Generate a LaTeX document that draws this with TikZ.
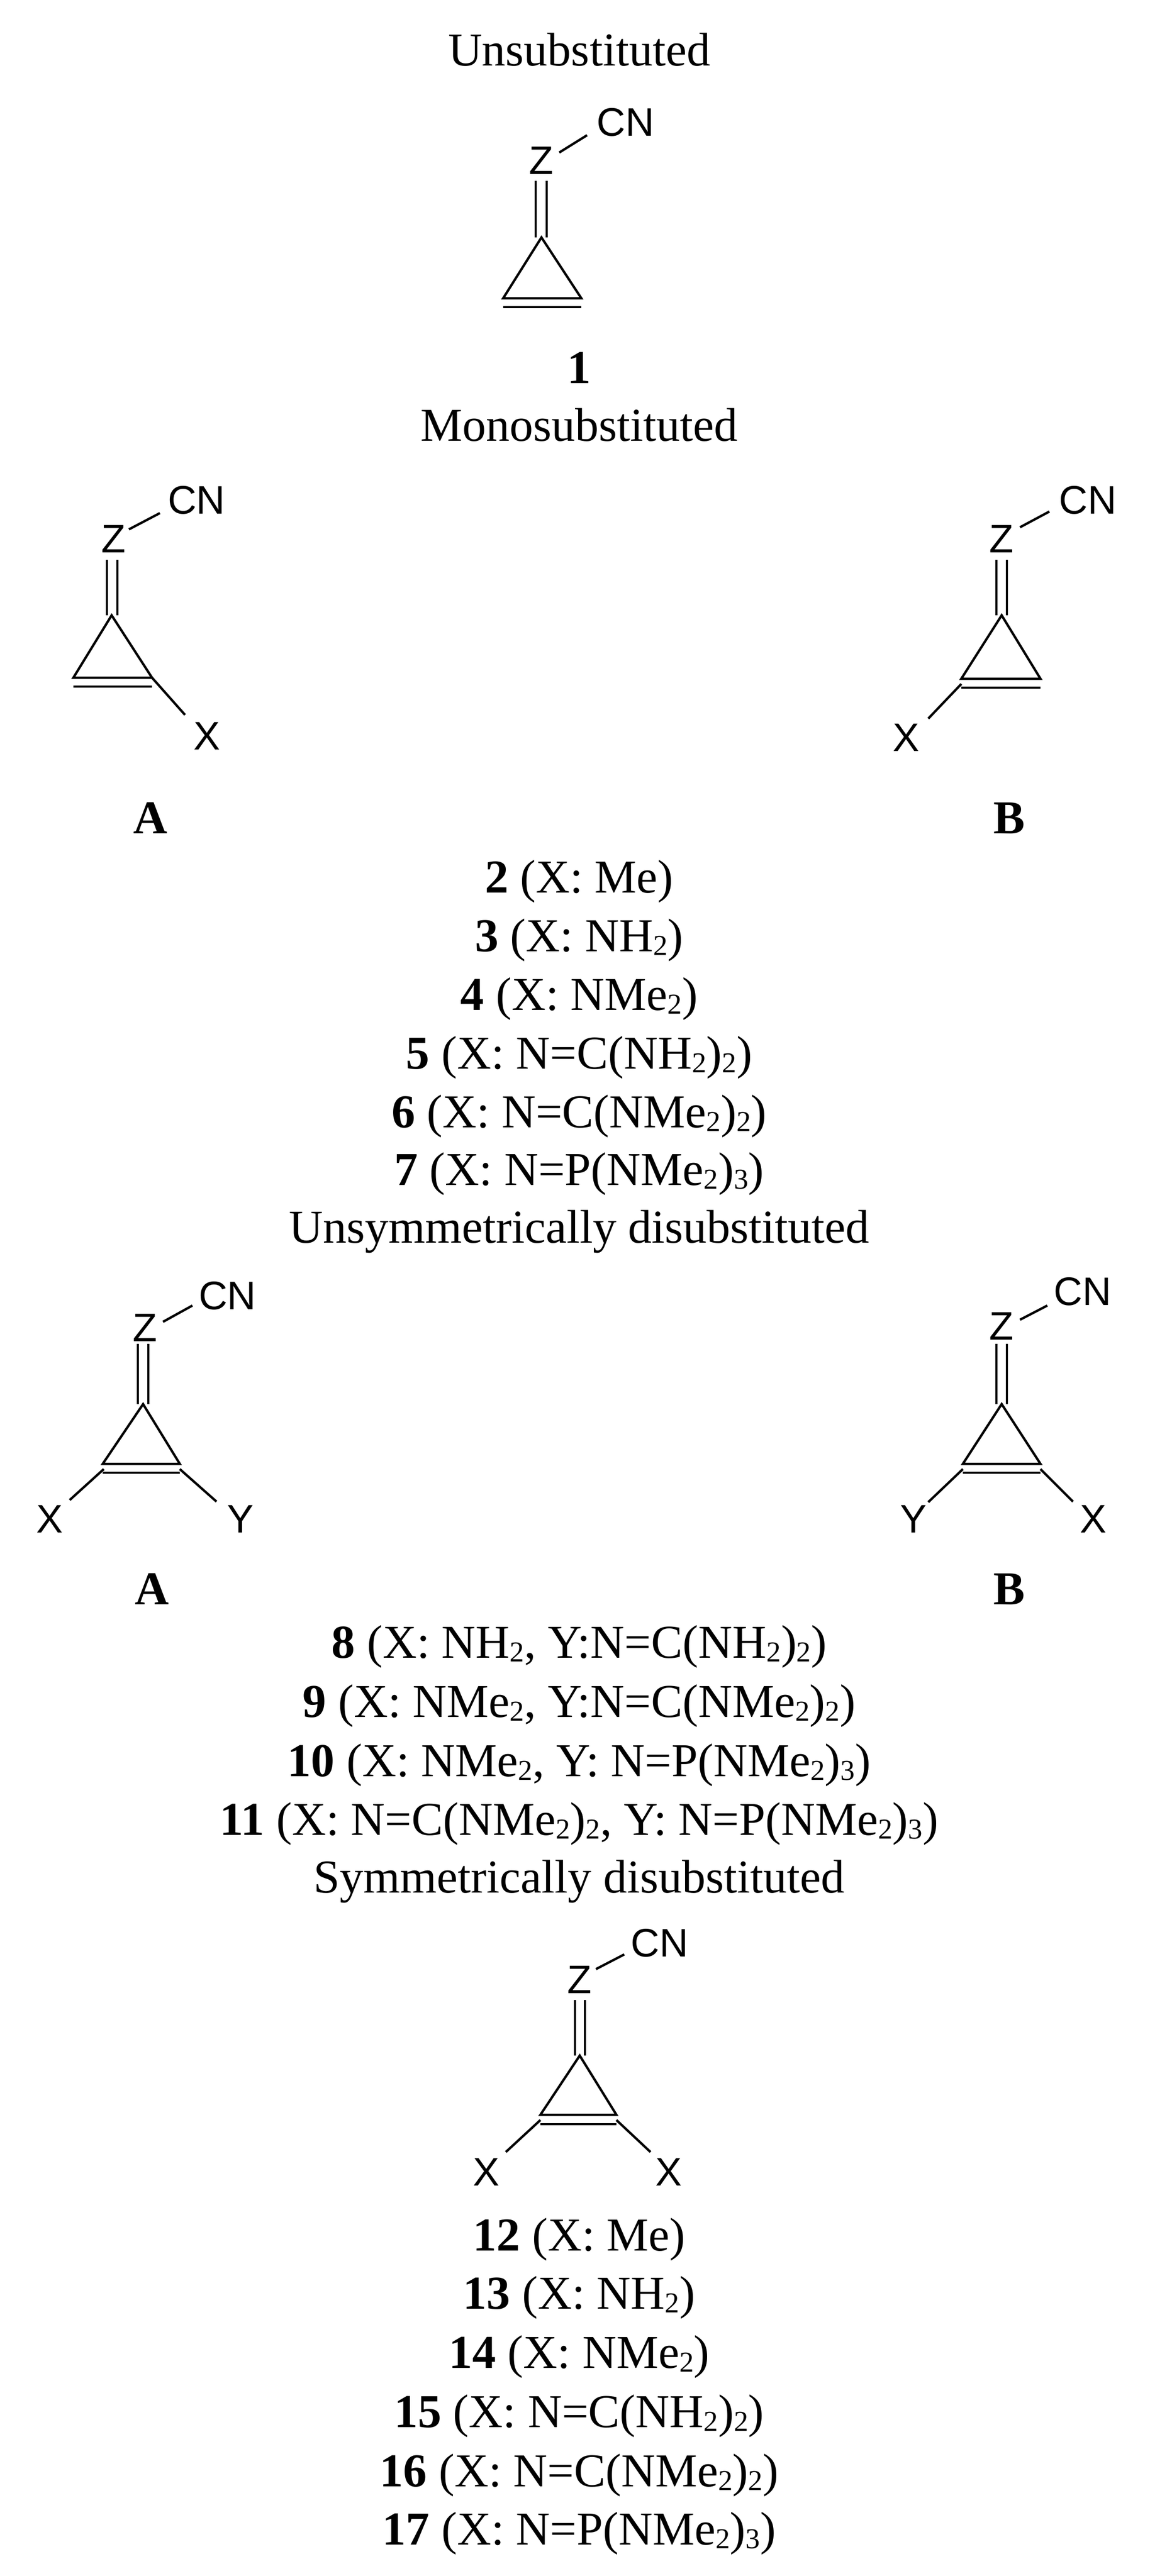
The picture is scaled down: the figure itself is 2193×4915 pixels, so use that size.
\documentclass[tikz,border=0pt]{standalone}
\usepackage{fontspec}
\setmainfont{Liberation Serif}
\newfontfamily\chemsf{Liberation Sans}
\newcommand{\sbs}[1]{\raisebox{-0.08em}{\fontsize{55}{55}\selectfont #1}}
\begin{document}
\begin{tikzpicture}[x=1pt,y=-1pt,
  bond/.style={line width=4.5pt},
  ttl/.style={font=\fontsize{90}{90}\selectfont, anchor=center, inner sep=0pt},
  atom/.style={font=\chemsf\fontsize{76}{76}\selectfont, anchor=center, inner sep=0pt},
  lbl/.style={font=\bfseries\fontsize{90}{90}\selectfont, anchor=center, inner sep=0pt}]
\useasboundingbox (0,0) rectangle (2193,4915);
% generic molecule macro: apex, base left, base right, offset
% ---------- Unsubstituted
\node[ttl] (t1) at (1105,95) {Unsubstituted};
\node[atom] (z1) at (1033,306) {Z};
\node[atom] (cn1) at (1193,233) {CN};
\coordinate (a1) at (1033,453); \coordinate (l1) at (960,569); \coordinate (r1) at (1109,569);
\draw[bond] (1067,291) -- (1120,258);
\draw[bond] (1022,345) -- (1022,453) (1043,345) -- (1043,453);
\draw[bond] (l1) -- (a1) -- (r1) -- cycle;
\draw[bond] (960,586) -- (1109,586);
\node[lbl] (n1) at (1105,702) {1};
% ---------- Monosubstituted
\node[ttl] (t2) at (1105,811) {Monosubstituted};
% A
\node[atom] (zA) at (217,1028) {Z};
\node[atom] (cnA) at (375,954) {CN};
\draw[bond] (246,1010) -- (305,979);
\draw[bond] (204,1068) -- (204,1174) (224,1068) -- (224,1174);
\coordinate (aA) at (213,1174); \coordinate (lA) at (140,1293); \coordinate (rA) at (290,1293);
\draw[bond] (lA) -- (aA) -- (rA) -- cycle;
\draw[bond] (140,1310) -- (290,1310);
\node[atom] (xA) at (395,1404) {X};
\draw[bond] (rA) -- (353,1364);
\node[lbl] (lblA) at (287,1561) {A};
% B
\node[atom] (zB) at (1911,1028) {Z};
\node[atom] (cnB) at (2075,954) {CN};
\draw[bond] (1946,1006) -- (2002,976);
\draw[bond] (1901,1068) -- (1901,1174) (1921,1068) -- (1921,1174);
\coordinate (aB) at (1911,1174); \coordinate (lB) at (1834,1295); \coordinate (rB) at (1985,1295);
\draw[bond] (lB) -- (aB) -- (rB) -- cycle;
\draw[bond] (1834,1312) -- (1985,1312);
\node[atom] (xB) at (1729,1407) {X};
\draw[bond] (1834,1305) -- (1771,1371);
\node[lbl] (lblB) at (1925,1561) {B};
% list 2-7
\node[ttl] (c2) at (1105,1682) {\textbf{2} (X: Me)};
\node[ttl] (c3) at (1105,1794) {\textbf{3} (X: NH\sbs{2})};
\node[ttl] (c4) at (1105,1906) {\textbf{4} (X: NMe\sbs{2})};
\node[ttl] (c5) at (1105,2018) {\textbf{5} (X: N=C(NH\sbs{2})\sbs{2})};
\node[ttl] (c6) at (1105,2130) {\textbf{6} (X: N=C(NMe\sbs{2})\sbs{2})};
\node[ttl] (c7) at (1105,2240) {\textbf{7} (X: N=P(NMe\sbs{2})\sbs{3})};
% ---------- Unsymmetrically
\node[ttl] (t3) at (1105,2350) {Unsymmetrically disubstituted};
% A
\node[atom] (zA2) at (277,2533) {Z};
\node[atom] (cnA2) at (434,2472) {CN};
\draw[bond] (311,2522) -- (367,2491);
\draw[bond] (263,2564) -- (263,2679) (283,2564) -- (283,2679);
\coordinate (aA2) at (273,2679); \coordinate (lA2) at (196,2793); \coordinate (rA2) at (343,2793);
\draw[bond] (lA2) -- (aA2) -- (rA2) -- cycle;
\draw[bond] (196,2810) -- (343,2810);
\node[atom] (xA2) at (95,2898) {X};
\node[atom] (yA2) at (459,2898) {Y};
\draw[bond] (198,2803) -- (133,2862);
\draw[bond] (343,2803) -- (413,2865);
\node[lbl] (lblA2) at (290,3032) {A};
% B
\node[atom] (zB2) at (1911,2530) {Z};
\node[atom] (cnB2) at (2065,2464) {CN};
\draw[bond] (1946,2518) -- (1998,2491);
\draw[bond] (1901,2564) -- (1901,2679) (1921,2564) -- (1921,2679);
\coordinate (aB2) at (1911,2679); \coordinate (lB2) at (1837,2793); \coordinate (rB2) at (1985,2793);
\draw[bond] (lB2) -- (aB2) -- (rB2) -- cycle;
\draw[bond] (1837,2810) -- (1985,2810);
\node[atom] (yB2) at (1743,2898) {Y};
\node[atom] (xB2) at (2086,2898) {X};
\draw[bond] (1837,2803) -- (1771,2866);
\draw[bond] (1985,2803) -- (2047,2865);
\node[lbl] (lblB2) at (1925,3032) {B};
% list 8-11
\node[ttl] (c8) at (1105,3142) {\textbf{8} (X: NH\sbs{2}, Y:N=C(NH\sbs{2})\sbs{2})};
\node[ttl] (c9) at (1105,3255) {\textbf{9} (X: NMe\sbs{2}, Y:N=C(NMe\sbs{2})\sbs{2})};
\node[ttl] (c10) at (1105,3368) {\textbf{10} (X: NMe\sbs{2}, Y: N=P(NMe\sbs{2})\sbs{3})};
\node[ttl] (c11) at (1105,3480) {\textbf{11} (X: N=C(NMe\sbs{2})\sbs{2}, Y: N=P(NMe\sbs{2})\sbs{3})};
% ---------- Symmetrically
\node[ttl] (t4) at (1105,3590) {Symmetrically disubstituted};
\node[atom] (zS) at (1106,3777) {Z};
\node[atom] (cnS) at (1258,3707) {CN};
\draw[bond] (1137,3757) -- (1191,3729);
\draw[bond] (1097,3816) -- (1097,3922) (1116,3816) -- (1116,3922);
\coordinate (aS) at (1106,3922); \coordinate (lS) at (1031,4035); \coordinate (rS) at (1176,4035);
\draw[bond] (lS) -- (aS) -- (rS) -- cycle;
\draw[bond] (1031,4053) -- (1176,4053);
\node[atom] (xS1) at (928,4144) {X};
\node[atom] (xS2) at (1276,4144) {X};
\draw[bond] (1031,4045) -- (965,4106);
\draw[bond] (1176,4045) -- (1241,4106);
\node[ttl] (c12) at (1105,4273) {\textbf{12} (X: Me)};
\node[ttl] (c13) at (1105,4384) {\textbf{13} (X: NH\sbs{2})};
\node[ttl] (c14) at (1105,4497) {\textbf{14} (X: NMe\sbs{2})};
\node[ttl] (c15) at (1105,4610) {\textbf{15} (X: N=C(NH\sbs{2})\sbs{2})};
\node[ttl] (c16) at (1105,4723) {\textbf{16} (X: N=C(NMe\sbs{2})\sbs{2})};
\node[ttl] (c17) at (1105,4834) {\textbf{17} (X: N=P(NMe\sbs{2})\sbs{3})};
\end{tikzpicture}
\end{document}
